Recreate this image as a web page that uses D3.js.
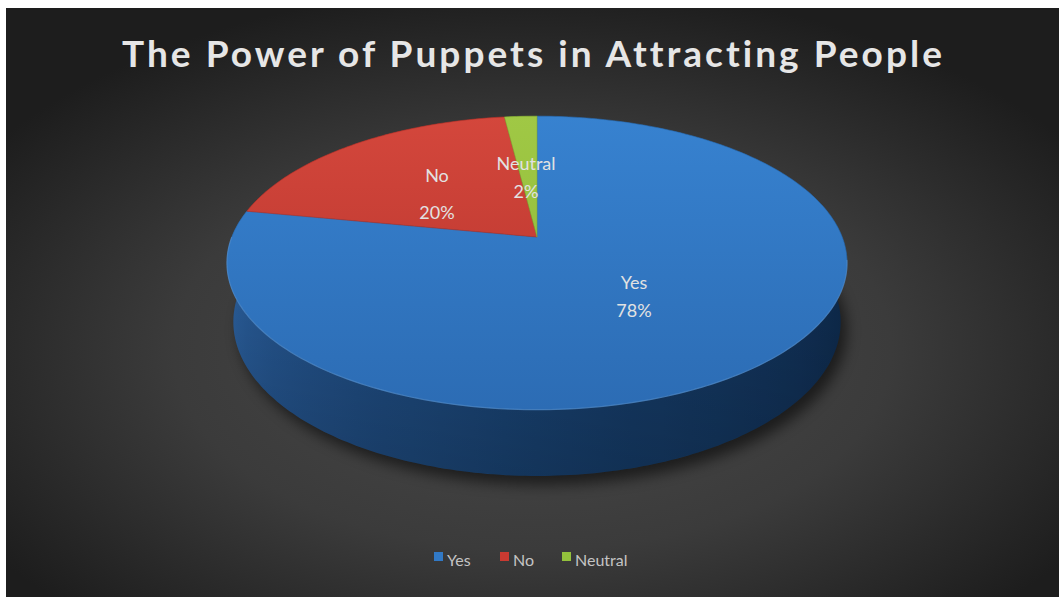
<!DOCTYPE html>
<html>
<head>
<meta charset="utf-8">
<script src="https://cdn.jsdelivr.net/npm/d3@7"></script>
<style>
  html, body { margin: 0; padding: 0; background: #ffffff; }
  svg { display: block; }
  text { font-variant-ligatures: none; font-feature-settings: "liga" 0, "clig" 0; }
</style>
</head>
<body>
<svg id="chart" width="1059" height="599"></svg>
<script>
// Survey answers and their shares (percent)
const categories = ["Yes", "No", "Neutral"];
const shares = [78, 20, 2];
const sliceColors = ["#3179c6", "#c93a31", "#93c13c"];
const legendLabels = ["Yes", "No", "Neutral"];
const titleText = "The Power of Puppets in Attracting People";

const W = 1059, H = 599;
const svg = d3.select("#chart");
const defs = svg.append("defs");

// Panel background: dark radial gradient
const bg = defs.append("radialGradient").attr("id", "bg")
  .attr("cx", "50%").attr("cy", "58%").attr("r", "62%");
bg.append("stop").attr("offset", "0%").attr("stop-color", "#4a4a4a");
bg.append("stop").attr("offset", "55%").attr("stop-color", "#3b3b3b");
bg.append("stop").attr("offset", "100%").attr("stop-color", "#1d1d1d");

svg.append("rect").attr("x", 6).attr("y", 8).attr("width", W - 6).attr("height", H - 10)
  .attr("fill", "url(#bg)");

// Title
svg.append("text")
  .attr("x", 122).attr("y", 67)
  .attr("textLength", 820).attr("lengthAdjust", "spacing")
  .attr("font-family", "Lato, 'Open Sans', sans-serif")
  .attr("font-weight", 700).attr("font-size", 37)
  .attr("fill", "#e6e6e6")
  .text(titleText);

// Perspective view of a disc: angle measured clockwise from the back (12 o'clock)
const cam = { cx: 537, cy: 237, f: 1529, D: 5.01, sinA: 0.466, cosA: Math.sqrt(1 - 0.466 * 0.466) };
const thick = 0.22;
function proj(phi, z) {
  const x = Math.sin(phi), y = Math.cos(phi);
  const up = y * cam.sinA + z * cam.cosA;
  const depth = cam.D + y * cam.cosA - z * cam.sinA;
  return [cam.cx + cam.f * x / depth, cam.cy - cam.f * up / depth];
}
function centerPt(z) {
  const up = z * cam.cosA, depth = cam.D - z * cam.sinA;
  return [cam.cx, cam.cy - cam.f * up / depth];
}
function rim(a0, a1, z) {
  const n = Math.max(2, Math.ceil((a1 - a0) / (Math.PI / 180)));
  return d3.range(n + 1).map(i => proj(a0 + (a1 - a0) * i / n, z));
}

const pie = d3.pie().sort(null).value(d => d).startAngle(0).endAngle(2 * Math.PI);
const arcs = pie(shares);
const line = d3.line();

// Soft shadow under the disc
const shadowF = defs.append("filter").attr("id", "shadow")
  .attr("x", "-20%").attr("y", "-20%").attr("width", "140%").attr("height", "140%");
shadowF.append("feGaussianBlur").attr("stdDeviation", 7);
svg.append("path")
  .attr("d", line(rim(0, 2 * Math.PI, -thick)) + "Z")
  .attr("transform", "translate(6,9)")
  .attr("fill", "#000").attr("opacity", 0.55)
  .attr("filter", "url(#shadow)");

// Side wall, shaded by the direction it faces (left lit, right in shade)
const deg = Math.PI / 180;
const wallShade = d3.scaleLinear()
  .domain([60, 90, 170, 230, 270, 300].map(d => d * deg))
  .range(["#0a2240", "#0b2341", "#163d6a", "#24548d", "#3169aa", "#2d64a3"])
  .interpolate(d3.interpolateRgb)
  .clamp(true);
const xs = rim(0, 2 * Math.PI, 0).map(p => p[0]);
const xMin = d3.min(xs), xMax = d3.max(xs);
const wallGrad = defs.append("linearGradient").attr("id", "wall")
  .attr("gradientUnits", "userSpaceOnUse")
  .attr("x1", xMin).attr("x2", xMax).attr("y1", 0).attr("y2", 0);
d3.range(270, 89, -5).forEach(d => {
  const x = proj(d * deg, 0)[0];
  wallGrad.append("stop")
    .attr("offset", Math.min(1, Math.max(0, (x - xMin) / (xMax - xMin))))
    .attr("stop-color", wallShade(d * deg));
});
svg.append("g").selectAll("path").data(arcs).join("path")
  .attr("d", a => line(rim(a.startAngle, a.endAngle, 0).concat(rim(a.startAngle, a.endAngle, -thick).reverse())) + "Z")
  .attr("fill", (a, i) => i === 0 ? "url(#wall)" : d3.color(sliceColors[i]).darker(1.2));

// Slight darkening towards the bottom edge of the wall
const wallFade = defs.append("linearGradient").attr("id", "wallFade")
  .attr("gradientUnits", "userSpaceOnUse").attr("x1", 0).attr("x2", 0).attr("y1", 230).attr("y2", 480);
wallFade.append("stop").attr("offset", "0%").attr("stop-color", "#000").attr("stop-opacity", 0);
wallFade.append("stop").attr("offset", "100%").attr("stop-color", "#000").attr("stop-opacity", 0.2);
svg.append("path")
  .attr("d", line(rim(0, 2 * Math.PI, 0).concat(rim(0, 2 * Math.PI, -thick).reverse())) + "Z")
  .attr("fill", "url(#wallFade)");

// Top faces
const topGrads = [
  ["#3782d0", "#2c6cb4"],
  ["#d4473c", "#b3322b"],
  ["#a0c845", "#8bb836"]
];
topGrads.forEach((g, i) => {
  const lg = defs.append("linearGradient").attr("id", "top" + i)
    .attr("gradientUnits", "userSpaceOnUse").attr("x1", 0).attr("x2", 0).attr("y1", 115).attr("y2", 410);
  lg.append("stop").attr("offset", "0%").attr("stop-color", g[0]);
  lg.append("stop").attr("offset", "100%").attr("stop-color", g[1]);
});
svg.append("g").selectAll("path").data(arcs).join("path")
  .attr("d", a => line([centerPt(0)].concat(rim(a.startAngle, a.endAngle, 0))) + "Z")
  .attr("fill", (a, i) => "url(#top" + i + ")")
  .attr("stroke", (a, i) => d3.color(sliceColors[i]).darker(0.3))
  .attr("stroke-width", 0.6);

// Faint highlight along the front rim
svg.append("path")
  .attr("d", line(rim(Math.PI * 0.55, Math.PI * 1.5, 0)))
  .attr("fill", "none").attr("stroke", "#6fa5e0").attr("stroke-opacity", 0.4).attr("stroke-width", 1.2);

// Data labels
const labelPos = [[634, 283, 311], [437, 176, 213], [526, 164, 192]];
const labelG = svg.append("g")
  .attr("font-family", "Lato, 'Open Sans', sans-serif")
  .attr("font-size", 18).attr("fill", "#e2e2e2").attr("text-anchor", "middle");
arcs.forEach((a, i) => {
  const [x, y1, y2] = labelPos[i];
  labelG.append("text").attr("x", x).attr("y", y1).attr("dy", "0.35em").text(categories[i]);
  labelG.append("text").attr("x", x).attr("y", y2).attr("dy", "0.35em")
    .text(Math.round(a.value) + "%");
});

// Legend
const legendX = d3.scaleOrdinal().domain(legendLabels).range([432, 498, 560]);
const legend = svg.append("g")
  .attr("font-family", "Lato, 'Open Sans', sans-serif")
  .attr("font-size", 16).attr("fill", "#c4c4c4");
legendLabels.forEach((lab, i) => {
  const x = legendX(lab);
  legend.append("rect").attr("x", x + 2).attr("y", 552).attr("width", 9).attr("height", 9)
    .attr("fill", sliceColors[i]);
  legend.append("text").attr("x", x + 15).attr("y", 560).attr("dy", "0.35em").text(lab);
});
</script>
</body>
</html>
